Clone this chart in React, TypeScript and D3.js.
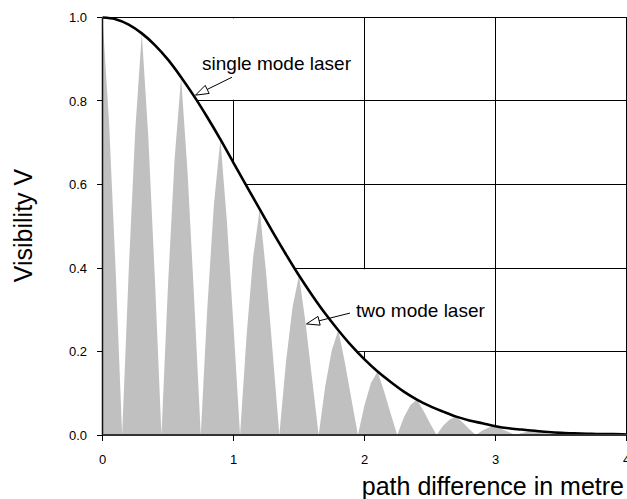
import React from 'react';
import * as d3 from 'd3';

const W = 627;
const H = 499;

const X_TICKS = [0, 1, 2, 3, 4];
const X_TICK_LABELS = ['0', '1', '2', '3', '4'];
const Y_TICKS = [0, 0.2, 0.4, 0.6, 0.8, 1.0];
const Y_TICK_LABELS = ['0.0', '0.2', '0.4', '0.6', '0.8', '1.0'];
const GRID_X = [1, 2, 3, 4];
const GRID_Y = [0.2, 0.4, 0.6, 0.8, 1.0];

// single mode laser visibility, path difference 0..4 m step 0.1
const SINGLE_STEP = 0.1;
const SINGLE_MODE = [
  1.0, 0.996, 0.983, 0.962, 0.934, 0.899, 0.857, 0.811, 0.761, 0.708,
  0.652, 0.596, 0.541, 0.486, 0.433, 0.382, 0.335, 0.291, 0.251, 0.214,
  0.181, 0.152, 0.127, 0.104, 0.085, 0.069, 0.056, 0.044, 0.035, 0.028,
  0.021, 0.016, 0.013, 0.01, 0.007, 0.005, 0.004, 0.003, 0.002, 0.002,
  0.001,
];

// two mode laser visibility, path difference 0..4 m step 0.05
const TWO_STEP = 0.05;
const TWO_MODE = [
  1.0, 0.749, 0.398, 0, 0.393, 0.73, 0.962, 0.712, 0.374, 0,
  0.359, 0.659, 0.857, 0.626, 0.324, 0, 0.304, 0.551, 0.708, 0.51,
  0.261, 0, 0.239, 0.426, 0.541, 0.385, 0.194, 0, 0.173, 0.305,
  0.382, 0.269, 0.134, 0, 0.116, 0.203, 0.251, 0.174, 0.086, 0,
  0.072, 0.125, 0.152, 0.104, 0.051, 0, 0.042, 0.071, 0.085, 0.058,
  0.028, 0, 0.022, 0.037, 0.044, 0.03, 0.014, 0, 0.011, 0.018,
  0.021, 0.014, 0.007, 0, 0.005, 0.008, 0.01, 0.006, 0.003, 0,
  0.002, 0.003, 0.004, 0.003, 0.001, 0, 0.001, 0.001, 0.002, 0.001,
  0.001,
];

const ANNOTATIONS = [
  { text: 'single mode laser', tx: 0.76, ty: 0.874, tail: [0.989, 0.857], tip: [0.71, 0.814], box: [0.745, 1.95, 0.803, 0.998] },
  { text: 'two mode laser', tx: 1.935, ty: 0.283, tail: [1.889, 0.292], tip: [1.557, 0.266], box: [1.905, 2.96, 0.201, 0.397] },
];

const X_TITLE = 'path difference in metre';
const Y_TITLE = 'Visibility V';

const FONT = 'Arial, "Liberation Sans", Helvetica, sans-serif';

export default function App() {
  const x = d3.scaleLinear().domain([0, 4]).range([102.5, 626.5]);
  const y = d3.scaleLinear().domain([0, 1]).range([435, 17.5]);
  const snap = (v: number) => Math.floor(v) + 0.5;

  const singlePts: [number, number][] = SINGLE_MODE.map((v, i) => [i * SINGLE_STEP, v]);
  const twoPts: [number, number][] = TWO_MODE.map((v, i) => [i * TWO_STEP, v]);

  const whiteArea = d3.area<[number, number]>()
    .x(d => x(d[0])).y0(y(0)).y1(d => y(d[1])).curve(d3.curveMonotoneX)(singlePts) || '';
  const greyArea = d3.area<[number, number]>()
    .x(d => x(d[0])).y0(y(0)).y1(d => y(d[1])).curve(d3.curveLinear)(twoPts) || '';
  const envLine = d3.line<[number, number]>()
    .x(d => x(d[0])).y(d => y(d[1])).curve(d3.curveMonotoneX)(singlePts) || '';

  const arrow = (tail: number[], tip: number[]) => {
    const x1 = x(tail[0]), y1 = y(tail[1]);
    const x2 = x(tip[0]), y2 = y(tip[1]);
    const dx = x1 - x2, dy = y1 - y2;
    const len = Math.hypot(dx, dy);
    const ux = dx / len, uy = dy / len;
    const hl = 13, hw = 4.5;
    const bx = x2 + ux * hl, by = y2 + uy * hl;
    const px = -uy, py = ux;
    const head = `M${x2},${y2}L${bx + px * hw},${by + py * hw}L${bx - px * hw},${by - py * hw}Z`;
    return { line: [x1, y1, bx, by], head };
  };

  return (
    <svg width={W} height={H} style={{ position: 'absolute', left: 0, top: 0, background: '#fff' }} fontFamily={FONT}>
      <rect x={0} y={0} width={W} height={H} fill="#fff" />
      {/* gridlines */}
      <g stroke="#000" strokeWidth={1} shapeRendering="crispEdges">
        {GRID_Y.map(v => (
          <line key={'gy' + v} x1={x(0)} x2={x(4)} y1={snap(y(v))} y2={snap(y(v))} />
        ))}
        {GRID_X.map(v => (
          <line key={'gx' + v} x1={snap(x(v))} x2={snap(x(v))} y1={y(1)} y2={y(0)} />
        ))}
      </g>
      {/* label backgrounds */}
      {ANNOTATIONS.map(a => (
        <rect key={'b' + a.text} x={x(a.box[0])} y={y(a.box[3])} width={x(a.box[1]) - x(a.box[0])} height={y(a.box[2]) - y(a.box[3])} fill="#fff" />
      ))}
      {/* white area under envelope */}
      <path d={whiteArea} fill="#fff" />
      {/* two mode laser */}
      <path d={greyArea} fill="#c0c0c0" />
      {/* single mode envelope */}
      <path d={envLine} fill="none" stroke="#000" strokeWidth={2.6} />
      {/* annotations */}
      {ANNOTATIONS.map(a => {
        const ar = arrow(a.tail, a.tip);
        return (
          <g key={'a' + a.text}>
            <line x1={ar.line[0]} y1={ar.line[1]} x2={ar.line[2]} y2={ar.line[3]} stroke="#000" strokeWidth={1} />
            <path d={ar.head} fill="#fff" stroke="#000" strokeWidth={1} />
            <text x={x(a.tx)} y={y(a.ty)} fontSize={19} fill="#000">{a.text}</text>
          </g>
        );
      })}
      {/* axes */}
      <line x1={102.5} x2={102.5} y1={y(1)} y2={y(0) + 1} stroke="#111" strokeWidth={1.5} />
      <line x1={x(0)} x2={x(4)} y1={435} y2={435} stroke="#333" strokeWidth={1.8} />
      {Y_TICKS.map((v, i) => (
        <g key={'yt' + v}>
          <line x1={97} x2={102} y1={snap(y(v))} y2={snap(y(v))} stroke="#000" shapeRendering="crispEdges" />
          <text x={87} y={y(v)} dy="0.35em" textAnchor="end" fontSize={13} fill="#000">{Y_TICK_LABELS[i]}</text>
        </g>
      ))}
      {X_TICKS.map((v, i) => (
        <g key={'xt' + v}>
          <line x1={snap(x(v))} x2={snap(x(v))} y1={435} y2={441} stroke="#000" shapeRendering="crispEdges" />
          <text x={x(v)} y={464} textAnchor="middle" fontSize={13} fill="#000">{X_TICK_LABELS[i]}</text>
        </g>
      ))}
      <text x={624} y={495} textAnchor="end" fontSize={25} fill="#000">{X_TITLE}</text>
      <text transform={`translate(32,225.5) rotate(-90)`} textAnchor="middle" fontSize={25} fill="#000">{Y_TITLE}</text>
    </svg>
  );
}
